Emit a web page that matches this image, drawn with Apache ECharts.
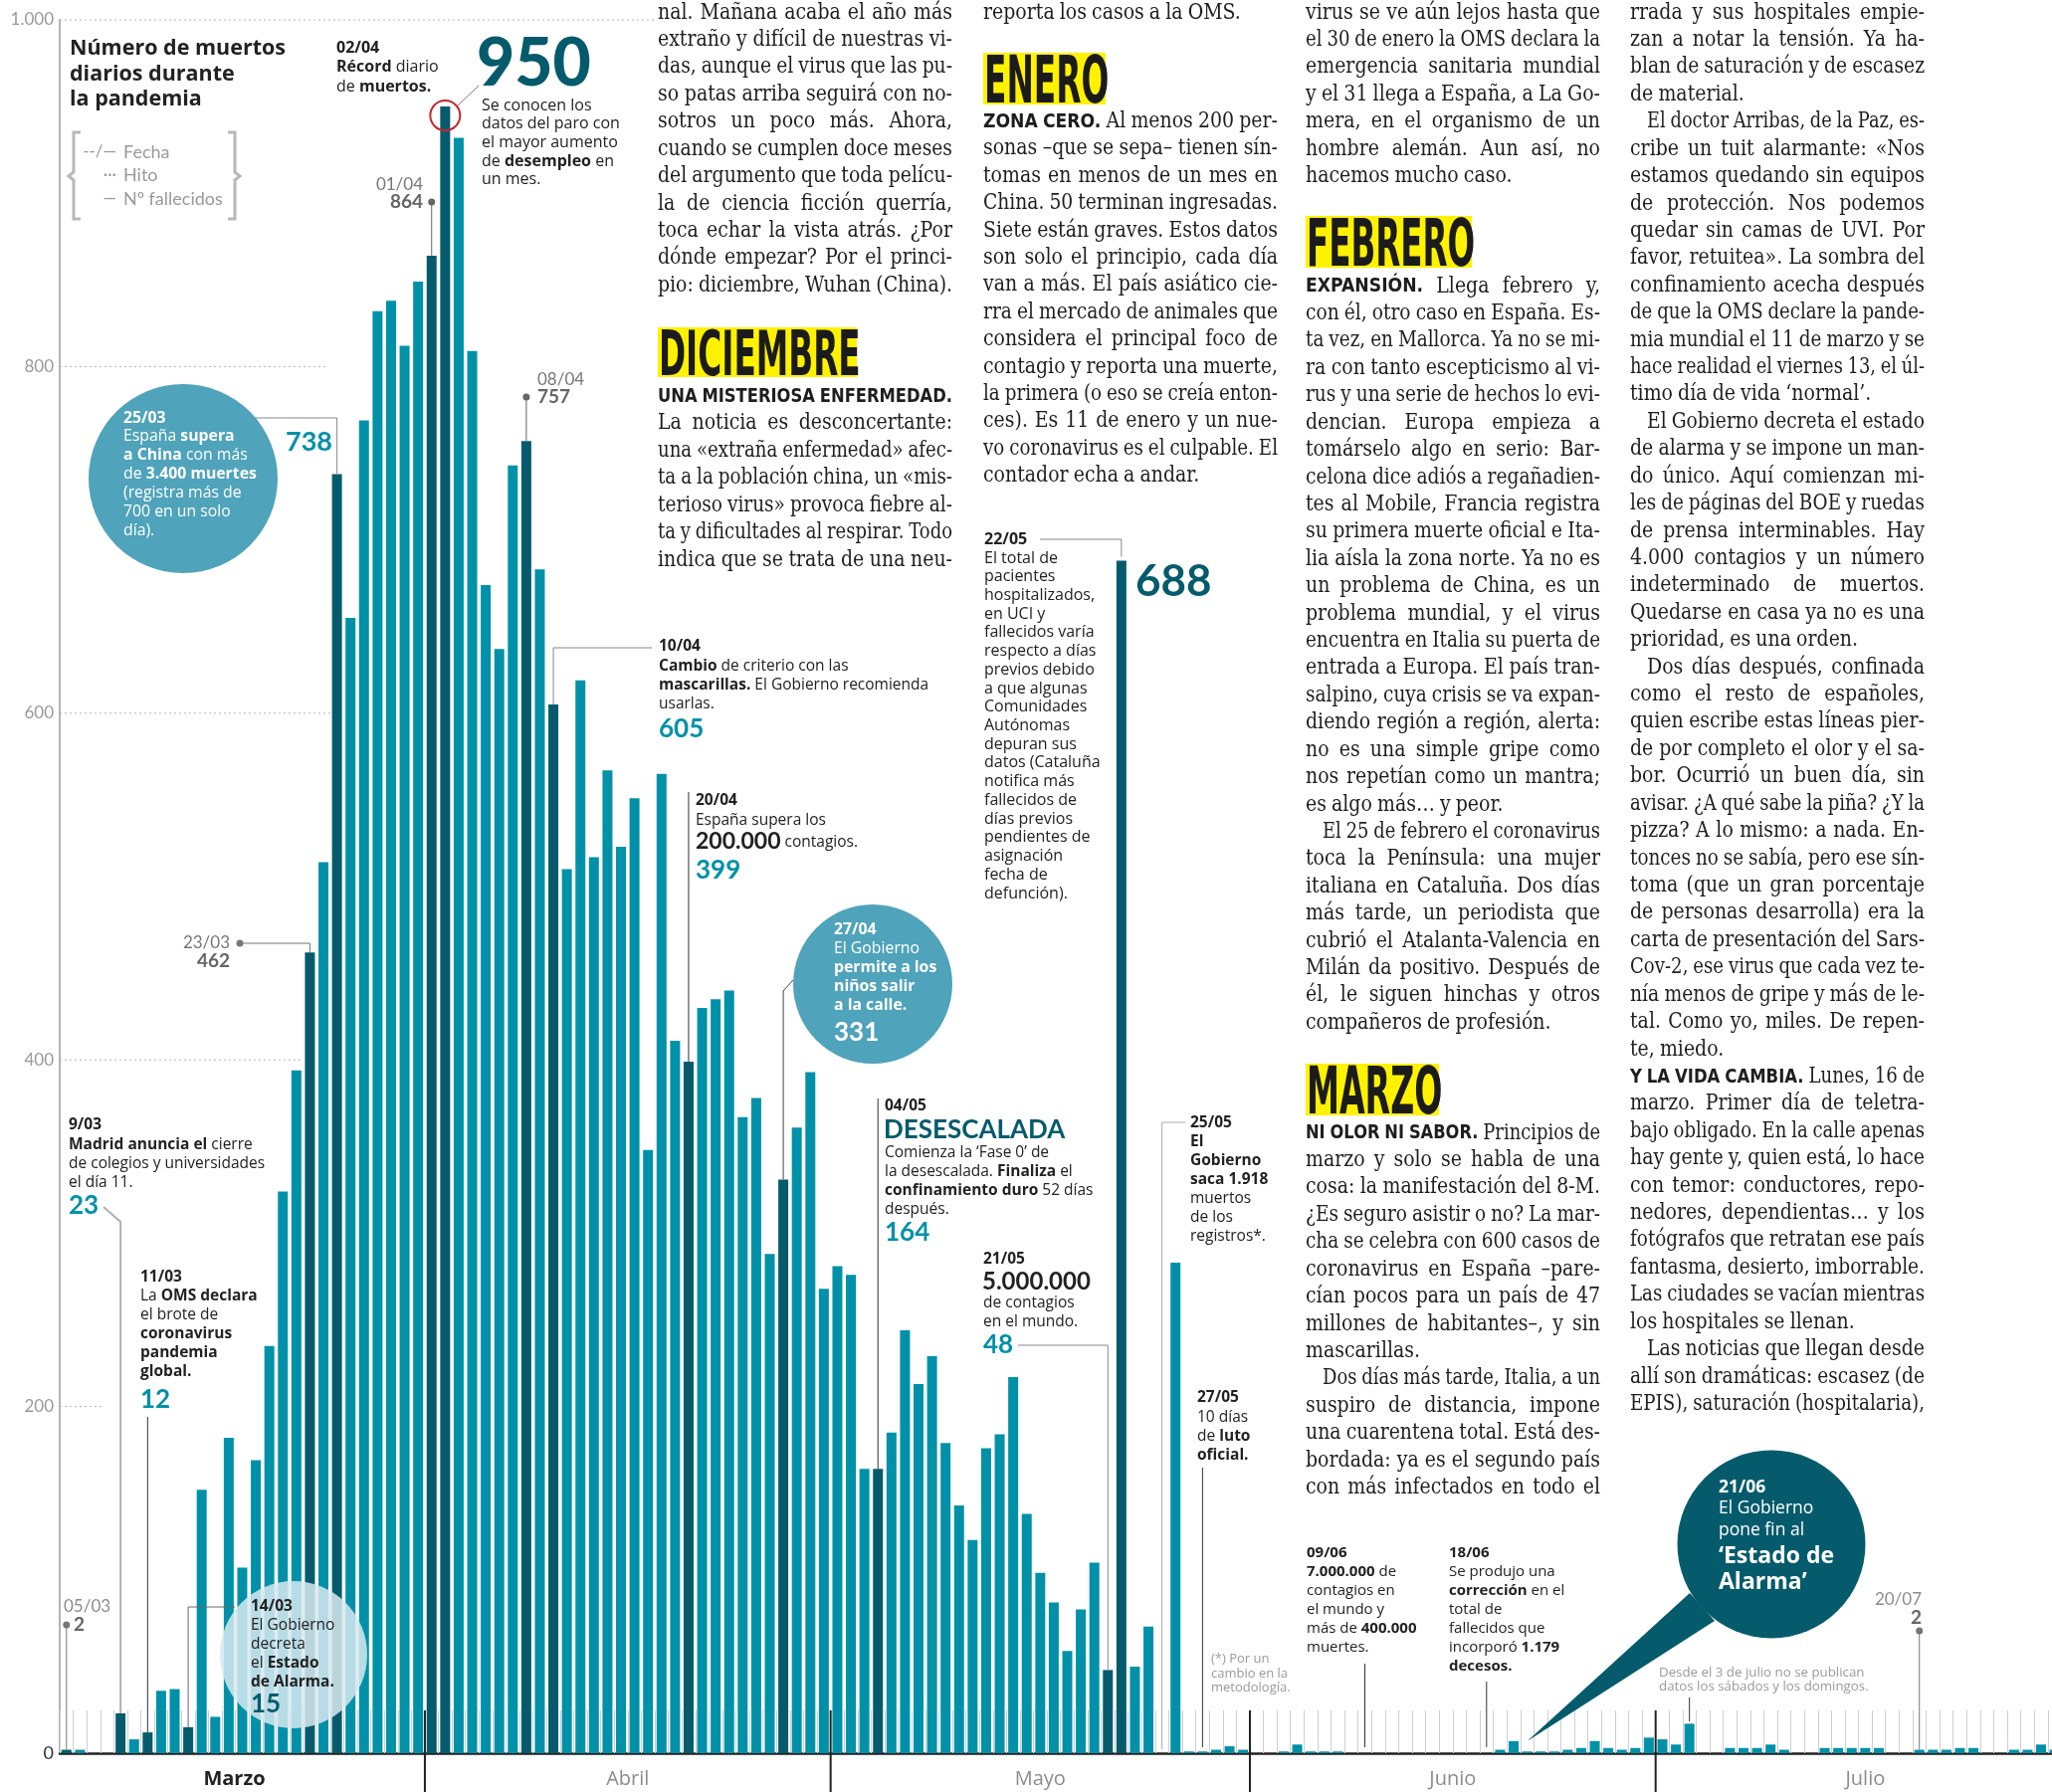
<!DOCTYPE html>
<html>
<head>
<meta charset="utf-8">
<script src="https://cdn.jsdelivr.net/npm/echarts@6.0.0/dist/echarts.min.js"></script>
<style>
  html, body { margin: 0; padding: 0; background: #fff; }
  #chart { width: 2062px; height: 1801px; }
</style>
</head>
<body>
<div id="chart"></div>
<script>
// ---- datos: fallecidos diarios (España) ----
var months = ['Marzo', 'Abril', 'Mayo', 'Junio', 'Julio'];
var monthNums = ['03', '04', '05', '06', '07'];
var firstDays = [5, 1, 1, 1, 1];
var deathsMarzo = [2, 2, 0, 0, 23, 8, 12, 36, 37, 15, 152, 21, 182, 107, 169, 235, 324, 394, 462, 514, 738, 655, 769, 832, 838, 812, 849];
var deathsAbril = [864, 950, 932, 809, 674, 637, 743, 757, 683, 605, 510, 619, 517, 567, 523, 551, 348, 565, 411, 399, 430, 435, 440, 367, 378, 288, 331, 361, 393, 268];
var deathsMayo = [281, 276, 164, 164, 185, 244, 213, 229, 179, 143, 123, 176, 184, 217, 138, 104, 87, 59, 83, 110, 48, 688, 50, 73, null, 283, 1, 1, 2, 4, 2];
var deathsJunio = [0, 0, 1, 5, 1, 1, 1, 0, 0, 0, 0, 0, 0, 0, 0, 0, 0, 0, 2, 7, 1, 1, 1, 2, 3, 7, 3, 2, 3, 9];
// fines de semana de julio sin datos publicados
var deathsJulio = [8, 5, 17, null, null, 3, 3, 3, 5, 2, null, null, 3, 3, 3, 3, 3, null, null, 2, 2, 2, 3, 3, null, null, 2, 2, 5, 2, 2];
// hitos (barras oscuras)
var hitos = ['05/03', '09/03', '11/03', '14/03', '23/03', '25/03', '01/04', '02/04', '08/04', '10/04', '20/04', '27/04', '04/05', '21/05', '22/05'];
var yTicks = [0, 200, 400, 600, 800, 1000];

var TEAL = '#0091a9', DARK = '#055b6c', BUBBLE = '#4fa3ba', INK = '#222', GRAY = '#999', YELLOW = '#fff200';

var days = [], values = [];
[deathsMarzo, deathsAbril, deathsMayo, deathsJunio, deathsJulio].forEach(function (arr, m) {
  arr.forEach(function (v, k) {
    var d = firstDays[m] + k;
    days.push((d < 10 ? '0' : '') + d + '/' + monthNums[m]);
    values.push(v);
  });
});

var chart = echarts.init(document.getElementById('chart'));
chart.setOption({
  animation: false,
  backgroundColor: '#fff',
  grid: { left: 60, top: 20, width: 2025, bottom: 39, containLabel: false, outerBoundsMode: 'none' },
  xAxis: {
    type: 'category',
    data: days,
    axisLine: { show: true, lineStyle: { color: '#222', width: 2.5 } },
    axisTick: { show: true, inside: true, length: 43, interval: 0, lineStyle: { color: '#cfcfcf', width: 1 } },
    axisLabel: { show: false },
    splitLine: { show: false }
  },
  yAxis: {
    type: 'value',
    min: yTicks[0],
    max: yTicks[yTicks.length - 1],
    interval: 200,
    axisLine: { show: true, lineStyle: { color: '#b3b3b3', width: 2 } },
    axisTick: { show: false },
    splitLine: { show: false },
    axisLabel: {
      margin: 6,
      color: '#9a9a9a',
      fontFamily: 'Lato',
      fontSize: 17,
      formatter: function (v) {
        if (v === 0) return '{z|0}';
        return v >= 1000 ? '1.000' : String(v);
      },
      rich: { z: { color: '#333', fontFamily: 'Lato', fontSize: 18 } }
    }
  },
  series: [{
    type: 'bar',
    barWidth: 10,
    data: values.map(function (v, i) {
      return { value: v, itemStyle: { color: hitos.indexOf(days[i]) >= 0 ? DARK : TEAL } };
    })
  }]
});

// ---- anotaciones y texto del artículo ----
function xp(d) { return chart.convertToPixel({ xAxisIndex: 0 }, d); }
function yp(v) { return chart.convertToPixel({ yAxisIndex: 0 }, v); }
function val(d) { return values[days.indexOf(d)]; }
var slot = xp(days[1]) - xp(days[0]);
var base = yp(0);

var ctx = document.createElement('canvas').getContext('2d');
function measure(font, s) { ctx.font = font; return ctx.measureText(s).width; }

var SANS = '"Open Sans"';
var g = [];
function poly(pts, color, w, dash) {
  g.push({ type: 'polyline', z: 50, shape: { points: pts }, style: { stroke: color, lineWidth: w || 1, lineDash: dash || null, fill: null } });
}
function dot(x, y, c) {
  g.push({ type: 'circle', z: 60, shape: { cx: x, cy: y, r: 3.5 }, style: { fill: c || '#666' } });
}
function txt(x, y, s, size, color, opt) {
  opt = opt || {};
  var fam = opt.family || 'Lato';
  var font = (opt.weight ? opt.weight + ' ' : '') + size + 'px ' + fam;
  var al = opt.align || 'left';
  g.push({
    type: 'text', z: 70, x: x, y: y,
    style: {
      text: s.replace(/\^([^\^]+)\^/g, '{b|$1}'),
      font: font, fill: color,
      align: al, textAlign: al, verticalAlign: 'middle', textVerticalAlign: 'middle',
      rich: { b: { font: 'bold ' + size + 'px ' + fam, fill: opt.boldColor || color } }
    }
  });
}
// bloques de texto de las anotaciones
function block(x, y0, pitch, lines, size, color, opt) {
  opt = opt || {};
  if (!opt.family) opt.family = SANS;
  lines.forEach(function (s, k) { txt(x, y0 + k * pitch, s, size, color, opt); });
}

// líneas de referencia punteadas (parciales, como en el original)
[[1000, 657], [800, 330], [600, 332], [400, 305], [200, 105]].forEach(function (r) {
  poly([[60, yp(r[0])], [r[1], yp(r[0])]], '#b5b5b5', 1, [2, 3]);
});

// separadores y nombres de meses
months.forEach(function (name, m) {
  var mDays = days.filter(function (d) { return d.slice(3) === monthNums[m]; });
  var x0 = xp(mDays[0]) - slot / 2, x1 = xp(mDays[mDays.length - 1]) + slot / 2;
  if (m > 0) g.push({ type: 'line', z: 55, shape: { x1: x0, y1: base - 43, x2: x0, y2: 1801 }, style: { stroke: '#222', lineWidth: 2 } });
  txt((x0 + x1) / 2 - (m === 0 ? 8 : 0), 1788, name, 20, m === 0 ? '#222' : '#8c8c8c', { align: 'center', weight: m === 0 ? 'bold' : null, family: SANS });
});

// título y leyenda
block(70, 49, 25.5, ['Número de muertos', 'diarios durante', 'la pandemia'], 21.5, INK, { weight: 'bold' });
poly([[81, 133], [74, 133], [74, 173], [69, 177], [74, 181], [74, 220], [81, 220]], '#b8b8b8', 3);
poly([[229, 133], [236, 133], [236, 173], [241, 177], [236, 181], [236, 220], [229, 220]], '#b8b8b8', 3);
txt(117, 153, '--/—', 17, GRAY, { align: 'right' });
txt(117, 176, '···', 17, GRAY, { align: 'right' });
txt(117, 200, '—', 17, GRAY, { align: 'right' });
txt(124, 153, 'Fecha', 18, GRAY);
txt(124, 176, 'Hito', 18, GRAY);
txt(124, 200, 'Nº fallecidos', 18, GRAY);

// 05/03
dot(xp('05/03'), 1633, '#777');
poly([[xp('05/03'), 1633], [xp('05/03'), yp(val('05/03'))]], '#777', 1);
txt(64, 1615, '05/03', 17, '#8c8c8c');
txt(74, 1633, '2', 19, '#666', { weight: 'bold' });

// 9/03
block(69, 1131, 19.3, ['^9/03^', '^Madrid anuncia el^ cierre', 'de colegios y universidades', 'el día 11.'], 15.5, INK);
txt(69, 1212, '23', 26, TEAL, { weight: 'bold' });
poly([[104, 1213], [xp('09/03'), 1228], [xp('09/03'), yp(val('09/03'))]], '#b0b0b0', 2);

// 11/03
block(141, 1284, 19, ['^11/03^', 'La ^OMS declara^', 'el brote de', '^coronavirus^', '^pandemia^', '^global.^'], 15.5, INK);
txt(141, 1407, '12', 26, TEAL, { weight: 'bold' });
poly([[xp('11/03'), 1424], [xp('11/03'), yp(val('11/03'))]], '#333', 1);

// 14/03
poly([[236, 1615], [xp('14/03'), 1615], [xp('14/03'), yp(val('14/03'))]], '#666', 1);
g.push({ type: 'circle', z: 65, shape: { cx: 295, cy: 1663, r: 74 }, style: { fill: 'rgba(214,233,239,0.86)' } });
block(252, 1615, 19, ['^14/03^', 'El Gobierno', 'decreta', 'el ^Estado^', '^de Alarma.^'], 15.5, INK);
txt(252, 1713, '15', 26, DARK, { weight: 'bold' });

// 23/03
dot(241, 948, '#777');
poly([[241, 948], [xp('23/03'), 948], [xp('23/03'), yp(val('23/03'))]], '#777', 1);
txt(231, 948, '23/03', 17, '#777', { align: 'right' });
txt(231, 966, '462', 19, '#666', { align: 'right', weight: 'bold' });

// 25/03
poly([[256, 420], [xp('25/03'), 420], [xp('25/03'), yp(val('25/03'))]], '#888', 1);
g.push({ type: 'circle', z: 65, shape: { cx: 184, cy: 481, r: 95 }, style: { fill: BUBBLE } });
block(124, 420, 18.9, ['^25/03^', 'España ^supera^', '^a China^ con más', 'de ^3.400 muertes^', '(registra más de', '700 en un solo', 'día).'], 15.8, '#fff');
txt(287, 444, '738', 27, TEAL, { weight: 'bold' });

// 01/04
dot(xp('01/04'), 203, '#666');
poly([[xp('01/04'), 203], [xp('01/04'), yp(val('01/04'))]], '#666', 1);
txt(425, 186, '01/04', 17, '#777', { align: 'right' });
txt(425, 203, '864', 19, '#666', { align: 'right', weight: 'bold' });

// 02/04
g.push({ type: 'circle', z: 66, shape: { cx: xp('02/04'), cy: yp(val('02/04')) + 9, r: 15 }, style: { fill: null, stroke: '#c1272d', lineWidth: 2 } });
poly([[459, 107], [481, 86]], '#777', 1);
block(338, 48, 19.5, ['^02/04^', '^Récord^ diario', 'de ^muertos.^'], 16, INK);
txt(479, 65, '950', 66, DARK, { weight: '900' });
block(484, 106, 18.7, ['Se conocen los', 'datos del paro con', 'el mayor aumento', 'de ^desempleo^ en', 'un mes.'], 16, INK);

// 08/04
dot(xp('08/04'), 399, '#666');
poly([[xp('08/04'), 399], [xp('08/04'), yp(val('08/04'))]], '#666', 1);
txt(540, 382, '08/04', 17, '#777');
txt(540, 399, '757', 19, '#666', { weight: 'bold' });

// 10/04
poly([[xp('10/04'), yp(val('10/04'))], [xp('10/04'), 651], [655, 651]], '#888', 1);
block(662, 650, 19.3, ['^10/04^', '^Cambio^ de criterio con las', '^mascarillas.^ El Gobierno recomienda', 'usarlas.'], 15.5, INK);
txt(662, 733, '605', 26, TEAL, { weight: 'bold' });

// 20/04
poly([[xp('20/04'), 796], [xp('20/04'), yp(val('20/04'))]], '#333', 1);
block(699, 805, 20, ['^20/04^', 'España supera los'], 15.5, INK);
txt(699, 846, '200.000', 23, INK, { weight: 'bold' });
txt(699 + measure('bold 23px Lato', '200.000') + 4, 847, 'contagios.', 15.5, INK, { family: SANS });
txt(699, 875, '399', 26, TEAL, { weight: 'bold' });

// 27/04
poly([[797, 985], [xp('27/04'), 996], [xp('27/04'), yp(val('27/04'))]], '#444', 1);
g.push({ type: 'circle', z: 65, shape: { cx: 877, cy: 989, r: 80 }, style: { fill: BUBBLE } });
block(838, 934, 19, ['^27/04^', 'El Gobierno', '^permite a los^', '^niños salir^', '^a la calle.^'], 15.8, '#fff');
txt(838, 1038, '331', 26, '#fff', { weight: 'bold' });

// 04/05
poly([[xp('04/05'), 1104], [xp('04/05'), yp(val('04/05'))]], '#333', 1);
block(889, 1112, 19, ['^04/05^'], 15.5, INK);
txt(888, 1136, 'DESESCALADA', 26, DARK, { weight: 'bold' });
block(889, 1159, 18.7, ['Comienza la ‘Fase 0’ de', 'la desescalada. ^Finaliza^ el', '^confinamiento duro^ 52 días', 'después.'], 15.5, INK);
txt(889, 1239, '164', 26, TEAL, { weight: 'bold' });

// 21/05
poly([[1023, 1352], [xp('21/05'), 1352], [xp('21/05'), yp(val('21/05'))]], '#888', 1);
block(988, 1266, 19, ['^21/05^'], 15.5, INK);
txt(987, 1288, '5.000.000', 24, INK, { weight: 'bold' });
block(988, 1310, 18.5, ['de contagios', 'en el mundo.'], 15.5, INK);
txt(988, 1352, '48', 26, TEAL, { weight: 'bold' });

// 22/05
poly([[1045, 542], [xp('22/05'), 542], [xp('22/05'), yp(val('22/05')) - 4]], '#888', 1);
block(989, 542, 19, ['^22/05^'], 16, INK);
block(989, 561, 18.72, ['El total de', 'pacientes', 'hospitalizados,', 'en UCI y', 'fallecidos varía', 'respecto a días', 'previos debido', 'a que algunas', 'Comunidades', 'Autónomas', 'depuran sus', 'datos (Cataluña', 'notifica más', 'fallecidos de', 'días previos', 'pendientes de', 'asignación', 'fecha de', 'defunción).'], 16, INK);
txt(1141, 585, '688', 44, DARK, { weight: 'bold' });

// 25/05
poly([[1191, 1128], [xp('25/05'), 1128], [xp('25/05'), base - 4]], '#aaa', 1);
block(1196, 1129, 19, ['^25/05^', '^El^', '^Gobierno^', '^saca 1.918^', 'muertos', 'de los', 'registros*.'], 15.5, INK);

// 27/05
poly([[xp('27/05') + slot, 1475], [xp('27/05') + slot, base - 6]], '#333', 1);
block(1203, 1405, 19.2, ['^27/05^', '10 días', 'de ^luto^', '^oficial.^'], 15.5, INK);
block(1217, 1667, 14.8, ['(*) Por un', 'cambio en la', 'metodología.'], 13, '#9a9a9a');

// 09/06
poly([[xp('09/06'), 1672], [xp('09/06'), base - 6]], '#333', 1);
block(1313, 1561, 19, ['^09/06^', '^7.000.000^ de', 'contagios en', 'el mundo y', 'más de ^400.000^', 'muertes.'], 15, INK);

// 18/06
poly([[xp('18/06'), 1690], [xp('18/06'), base - 6]], '#333', 1);
block(1456, 1561, 19, ['^18/06^', 'Se produjo una', '^corrección^ en el', 'total de', 'fallecidos que', 'incorporó ^1.179^', '^decesos.^'], 15, INK);

// 21/06 bocadillo
g.push({ type: 'polygon', z: 65, shape: { points: [[1698, 1601], [1723, 1629], [xp('21/06'), base - 12]] }, style: { fill: DARK } });
g.push({ type: 'circle', z: 65, shape: { cx: 1780, cy: 1552, r: 94.5 }, style: { fill: DARK } });
block(1727, 1495, 21.5, ['^21/06^', 'El Gobierno', 'pone fin al'], 17.5, '#fff');
block(1727, 1564, 26.5, ['‘Estado de', 'Alarma’'], 23, '#fff', { weight: 'bold' });

// julio
poly([[xp('03/07'), 1706], [xp('03/07'), 1730]], '#333', 1);
block(1667, 1681, 14.5, ['Desde el 3 de julio no se publican', 'datos los sábados y los domingos.'], 13.3, '#9a9a9a');
dot(xp('20/07'), 1639, '#777');
poly([[xp('20/07'), 1639], [xp('20/07'), yp(val('20/07'))]], '#777', 1);
txt(1931, 1608, '20/07', 17, '#8c8c8c', { align: 'right' });
txt(1931, 1626, '2', 19, '#666', { align: 'right', weight: 'bold' });

// ---- texto del artículo (columnas) ----
var COLW = 296, PITCH = 27.42;
var SERIF = '21.5px "DejaVu Serif"';
var BODY_SX = 0.88;
var LEAD = 'bold 20px "DejaVu Sans"';
var LEAD_SX = 0.86;

function bodyBlock(x, y0, lines) {
  lines.forEach(function (raw, k) {
    var s = raw, indent = 0, last = false;
    if (s.charAt(0) === '>') { indent = 17; s = s.slice(1); }
    if (s.slice(-1) === '¶') { last = true; s = s.slice(0, -1); }
    var words = [];
    s.split('^').forEach(function (seg, j) {
      seg.split(' ').forEach(function (w) { if (w) words.push({ t: w, b: j % 2 === 1 }); });
    });
    var space = measure(SERIF, ' ') * BODY_SX * 0.85, sum = 0;
    words.forEach(function (w) {
      w.w = w.b ? measure(LEAD, w.t) * LEAD_SX : measure(SERIF, w.t) * BODY_SX;
      sum += w.w;
    });
    var avail = COLW - indent;
    var natural = sum + space * (words.length - 1);
    var gap = space, sx = 1;
    if (natural > avail) sx = avail / natural;
    else if (!last && words.length > 1) gap = (avail - sum) / (words.length - 1);
    var children = [], cx = 0;
    words.forEach(function (w) {
      children.push({
        type: 'text', z: 30, x: cx, y: 0, scaleX: w.b ? LEAD_SX : BODY_SX,
        style: { text: w.t, font: w.b ? LEAD : SERIF, fill: '#1e1e1e', align: 'left', textAlign: 'left', verticalAlign: 'middle', textVerticalAlign: 'middle' }
      });
      cx += w.w + gap;
    });
    g.push({ type: 'group', z: 30, x: x + indent, y: y0 + k * PITCH, scaleX: sx, children: children });
  });
}

function heading(label, x0, y0, x1, y1) {
  g.push({ type: 'rect', z: 28, shape: { x: x0, y: y0, width: x1 - x0, height: y1 - y0 }, style: { fill: YELLOW } });
  ctx.textBaseline = 'middle';
  ctx.font = 'bold 64px "DejaVu Sans"';
  var m0 = ctx.measureText(label);
  var size = 64 * (y1 - y0 - 2) / (m0.actualBoundingBoxAscent + m0.actualBoundingBoxDescent);
  var font = 'bold ' + size.toFixed(1) + 'px "DejaVu Sans"';
  ctx.font = font;
  var m = ctx.measureText(label);
  var cy = (y0 + y1) / 2 + (m.actualBoundingBoxAscent - m.actualBoundingBoxDescent) / 2;
  var w = m.actualBoundingBoxRight + m.actualBoundingBoxLeft;
  ctx.textBaseline = 'alphabetic';
  g.push({
    type: 'text', z: 31, x: x0 + 1, y: cy, scaleX: (x1 - x0 - 2) / w,
    style: { text: label, font: font, fill: '#1b1b1b', align: 'left', textAlign: 'left', verticalAlign: 'middle', textVerticalAlign: 'middle' }
  });
}

var col1a = ['nal. Mañana acaba el año más', 'extraño y difícil de nuestras vi-', 'das, aunque el virus que las pu-', 'so patas arriba seguirá con no-', 'sotros un poco más. Ahora,', 'cuando se cumplen doce meses', 'del argumento que toda pelícu-', 'la de ciencia ficción querría,', 'toca echar la vista atrás. ¿Por', 'dónde empezar? Por el princi-', 'pio: diciembre, Wuhan (China).'];
var col1b = ['^UNA MISTERIOSA ENFERMEDAD.^', 'La noticia es desconcertante:', 'una «extraña enfermedad» afec-', 'ta a la población china, un «mis-', 'terioso virus» provoca fiebre al-', 'ta y dificultades al respirar. Todo', 'indica que se trata de una neu-'];
var col2a = ['reporta los casos a la OMS.¶'];
var col2b = ['^ZONA CERO.^ Al menos 200 per-', 'sonas –que se sepa– tienen sín-', 'tomas en menos de un mes en', 'China. 50 terminan ingresadas.', 'Siete están graves. Estos datos', 'son solo el principio, cada día', 'van a más. El país asiático cie-', 'rra el mercado de animales que', 'considera el principal foco de', 'contagio y reporta una muerte,', 'la primera (o eso se creía enton-', 'ces). Es 11 de enero y un nue-', 'vo coronavirus es el culpable. El', 'contador echa a andar.¶'];
var col3a = ['virus se ve aún lejos hasta que', 'el 30 de enero la OMS declara la', 'emergencia sanitaria mundial', 'y el 31 llega a España, a La Go-', 'mera, en el organismo de un', 'hombre alemán. Aun así, no', 'hacemos mucho caso.¶'];
var col3b = ['^EXPANSIÓN.^ Llega febrero y,', 'con él, otro caso en España. Es-', 'ta vez, en Mallorca. Ya no se mi-', 'ra con tanto escepticismo al vi-', 'rus y una serie de hechos lo evi-', 'dencian. Europa empieza a', 'tomárselo algo en serio: Bar-', 'celona dice adiós a regañadien-', 'tes al Mobile, Francia registra', 'su primera muerte oficial e Ita-', 'lia aísla la zona norte. Ya no es', 'un problema de China, es un', 'problema mundial, y el virus', 'encuentra en Italia su puerta de', 'entrada a Europa. El país tran-', 'salpino, cuya crisis se va expan-', 'diendo región a región, alerta:', 'no es una simple gripe como', 'nos repetían como un mantra;', 'es algo más… y peor.¶', '>El 25 de febrero el coronavirus', 'toca la Península: una mujer', 'italiana en Cataluña. Dos días', 'más tarde, un periodista que', 'cubrió el Atalanta-Valencia en', 'Milán da positivo. Después de', 'él, le siguen hinchas y otros', 'compañeros de profesión.¶'];
var col3c = ['^NI OLOR NI SABOR.^ Principios de', 'marzo y solo se habla de una', 'cosa: la manifestación del 8-M.', '¿Es seguro asistir o no? La mar-', 'cha se celebra con 600 casos de', 'coronavirus en España –pare-', 'cían pocos para un país de 47', 'millones de habitantes–, y sin', 'mascarillas.¶', '>Dos días más tarde, Italia, a un', 'suspiro de distancia, impone', 'una cuarentena total. Está des-', 'bordada: ya es el segundo país', 'con más infectados en todo el'];
var col4 = ['rrada y sus hospitales empie-', 'zan a notar la tensión. Ya ha-', 'blan de saturación y de escasez', 'de material.¶', '>El doctor Arribas, de la Paz, es-', 'cribe un tuit alarmante: «Nos', 'estamos quedando sin equipos', 'de protección. Nos podemos', 'quedar sin camas de UVI. Por', 'favor, retuitea». La sombra del', 'confinamiento acecha después', 'de que la OMS declare la pande-', 'mia mundial el 11 de marzo y se', 'hace realidad el viernes 13, el úl-', 'timo día de vida ‘normal’.¶', '>El Gobierno decreta el estado', 'de alarma y se impone un man-', 'do único. Aquí comienzan mi-', 'les de páginas del BOE y ruedas', 'de prensa interminables. Hay', '4.000 contagios y un número', 'indeterminado de muertos.', 'Quedarse en casa ya no es una', 'prioridad, es una orden.¶', '>Dos días después, confinada', 'como el resto de españoles,', 'quien escribe estas líneas pier-', 'de por completo el olor y el sa-', 'bor. Ocurrió un buen día, sin', 'avisar. ¿A qué sabe la piña? ¿Y la', 'pizza? A lo mismo: a nada. En-', 'tonces no se sabía, pero ese sín-', 'toma (que un gran porcentaje', 'de personas desarrolla) era la', 'carta de presentación del Sars-', 'Cov-2, ese virus que cada vez te-', 'nía menos de gripe y más de le-', 'tal. Como yo, miles. De repen-', 'te, miedo.¶', '^Y LA VIDA CAMBIA.^ Lunes, 16 de', 'marzo. Primer día de teletra-', 'bajo obligado. En la calle apenas', 'hay gente y, quien está, lo hace', 'con temor: conductores, repo-', 'nedores, dependientas… y los', 'fotógrafos que retratan ese país', 'fantasma, desierto, imborrable.', 'Las ciudades se vacían mientras', 'los hospitales se llenan.¶', '>Las noticias que llegan desde', 'allí son dramáticas: escasez (de', 'EPIS), saturación (hospitalaria),'];

bodyBlock(661, 13, col1a);
heading('DICIEMBRE', 661, 329, 861, 379);
bodyBlock(661, 398.5, col1b);

bodyBlock(988, 13, col2a);
heading('ENERO', 988, 53, 1111, 105);
bodyBlock(988, 122.3, col2b);

bodyBlock(1312, 13, col3a);
heading('FEBRERO', 1312, 217, 1479, 269);
bodyBlock(1312, 288, col3b);
heading('MARZO', 1312, 1069, 1446, 1121);
bodyBlock(1312, 1139, col3c);

bodyBlock(1638, 13, col4);

chart.setOption({ graphic: { elements: g } });
</script>
</body>
</html>
